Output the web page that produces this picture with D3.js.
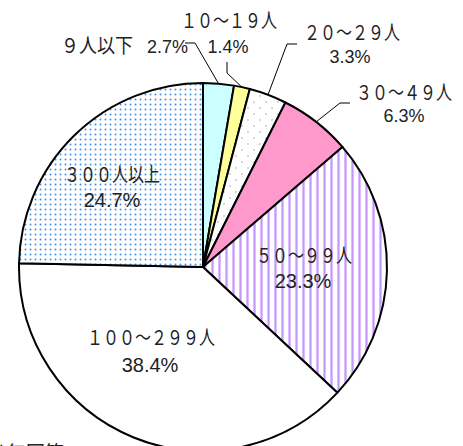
<!DOCTYPE html>
<html>
<head>
<meta charset="utf-8">
<script src="https://cdn.jsdelivr.net/npm/d3@7"></script>
<style>
  html, body { margin: 0; padding: 0; background: #fff; }
  svg { display: block; }
</style>
</head>
<body>
<svg id="chart"></svg>
<script>
// data (clockwise from 12 o'clock)
const categories = ['９人以下', '１０～１９人', '２０～２９人', '３０～４９人', '５０～９９人', '１００～２９９人', '３００人以上'];
const shares = [2.7, 1.4, 3.3, 6.3, 23.3, 38.4, 24.7];
const footNote = 'は無回答';

const width = 463;
const height = 446;
const cx = 203;
const cy = 267;
const radius = 184;

// where each label goes (layout only)
const labelLayout = [
  { nameX: 133, nameY: 53, nameAnchor: 'end', pctX: 147, pctY: 53, pctAnchor: 'start', leader: [[185, 43], [195, 43]] },
  { nameX: 229, nameY: 28, pctX: 228, pctY: 53, leader: [[227, 62], [227, 73]] },
  { nameX: 352, nameY: 40, pctX: 350, pctY: 63, leader: [[297, 44], [287, 44]] },
  { nameX: 404, nameY: 100, pctX: 404, pctY: 122, leader: [[350, 103], [340, 103]] },
  { nameX: 304, nameY: 263, pctX: 303, pctY: 288 },
  { nameX: 151, nameY: 345, pctX: 150, pctY: 372 },
  { nameX: 112, nameY: 182, pctX: 112, pctY: 207 },
];

const svg = d3.select('#chart').attr('width', width).attr('height', height);
svg.append('rect').attr('width', width).attr('height', height).attr('fill', '#fff');

const defs = svg.append('defs');

// blue dots (300+)
let p = defs.append('pattern').attr('id', 'dotBlue').attr('patternUnits', 'userSpaceOnUse')
  .attr('width', 5).attr('height', 5);
p.append('rect').attr('width', 5).attr('height', 5).attr('fill', '#fff');
p.append('circle').attr('cx', 2.5).attr('cy', 2.5).attr('r', 0.95).attr('fill', '#3f8fe8');

// sparse grey dots (20-29)
p = defs.append('pattern').attr('id', 'dotGrey').attr('patternUnits', 'userSpaceOnUse')
  .attr('width', 12).attr('height', 12);
p.append('rect').attr('width', 12).attr('height', 12).attr('fill', '#fff');
p.append('circle').attr('cx', 3).attr('cy', 3).attr('r', 0.9).attr('fill', '#c4c4c4');
p.append('circle').attr('cx', 9).attr('cy', 9).attr('r', 0.9).attr('fill', '#c4c4c4');

// purple vertical stripes (50-99)
p = defs.append('pattern').attr('id', 'stripe').attr('patternUnits', 'userSpaceOnUse')
  .attr('width', 7).attr('height', 7);
p.append('rect').attr('width', 7).attr('height', 7).attr('fill', '#fff');
p.append('rect').attr('x', 1).attr('width', 3).attr('height', 7).attr('fill', '#e2c8ff');
p.append('rect').attr('x', 1.75).attr('width', 1.5).attr('height', 7).attr('fill', '#c598ff');

const fills = ['#ccffff', '#ffff99', 'url(#dotGrey)', '#ff99cc', 'url(#stripe)', '#fff', 'url(#dotBlue)'];

const pie = d3.pie().sort(null).value((d) => d);
const arcs = pie(shares);

const arc = d3.arc().innerRadius(0).outerRadius(radius);
const rim = d3.arc().innerRadius(radius).outerRadius(radius);

const g = svg.append('g').attr('transform', `translate(${cx},${cy})`);

g.selectAll('path.slice')
  .data(arcs)
  .join('path')
  .attr('class', 'slice')
  .attr('d', arc)
  .attr('fill', (d, i) => fills[i])
  .attr('stroke', '#000')
  .attr('stroke-width', 2)
  .attr('stroke-linejoin', 'round');

// leader lines for the thin slices
const line = d3.line();
arcs.forEach((d, i) => {
  const lay = labelLayout[i];
  if (!lay.leader) return;
  const [px, py] = rim.centroid(d);
  svg.append('path')
    .attr('d', line([...lay.leader, [cx + px, cy + py]]))
    .attr('fill', 'none')
    .attr('stroke', '#000')
    .attr('stroke-width', 1);
});

// labels: condensed look via horizontal squeeze
function addText(x, y, str, opts) {
  const t = svg.append('g').attr('transform', `translate(${x},${y}) scale(${opts.sx},1)`)
    .append('text')
    .attr('text-anchor', opts.anchor || 'middle')
    .attr('font-family', opts.family)
    .attr('font-size', opts.size)
    .attr('fill', '#222')
    .text(str);
  if (opts.spacing) t.attr('letter-spacing', opts.spacing);
  return t;
}

const cjk = '"Noto Sans CJK JP", "Noto Sans", sans-serif';
const narrow = '"Liberation Sans Narrow", "Arial Narrow", "Liberation Sans", sans-serif';

categories.forEach((name, i) => {
  const lay = labelLayout[i];
  const inner = !lay.leader;
  addText(lay.nameX, lay.nameY, name, { family: cjk, size: 20, sx: i === 0 ? 0.9 : 0.8, anchor: lay.nameAnchor });
  addText(lay.pctX, lay.pctY, shares[i].toFixed(1) + '%', { family: narrow, size: inner ? 20 : 18, sx: 1, anchor: lay.pctAnchor });
});

// footnote cut by the bottom edge, as in the source
addText(-12, 460, footNote, { family: cjk, size: 19, sx: 1, anchor: 'start' });
</script>
</body>
</html>
